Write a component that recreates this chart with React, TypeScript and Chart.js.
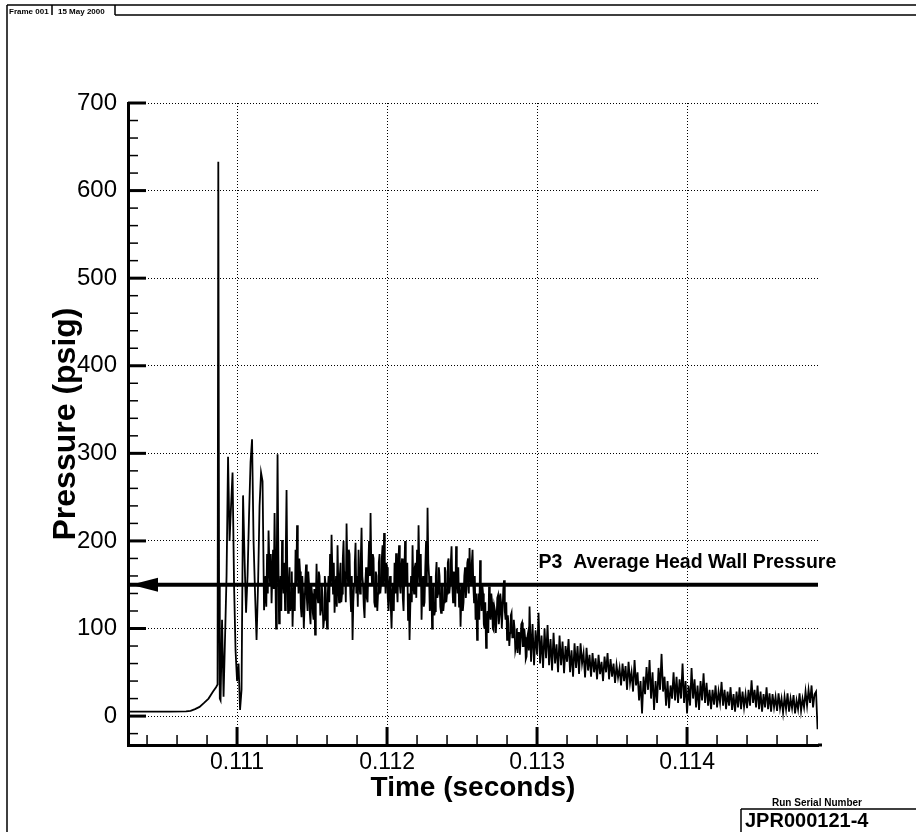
import React, { useEffect, useRef } from 'react';
import { Chart, registerables } from 'chart.js';

Chart.register(...registerables);

// ---- data (time in microseconds, pressure in psig) ----
const traceTimeUs = [
  110270, 110400, 110550, 110660, 110690, 110720, 110750, 110780, 110810, 110840,
  110860, 110870, 110875, 110880, 110885,
  110890, 110900, 110910, 110920, 110930, 110940, 110950, 110960, 110970, 110980,
  110990, 111000, 111010, 111020, 111030, 111040, 111050, 111060, 111070, 111080,
  111090, 111100, 111110, 111120, 111130, 111140, 111150, 111160, 111170, 111180,
  111190, 111195, 111200, 111205, 111210, 111215, 111220, 111225, 111230, 111235,
  111240, 111245, 111250, 111255, 111260, 111265, 111270, 111275, 111280, 111285,
  111290, 111295, 111300, 111305, 111310, 111315, 111320, 111325, 111330, 111335,
  111340, 111345, 111350, 111355, 111360, 111365, 111370, 111375, 111380, 111385,
  111390, 111395, 111400, 111405, 111410, 111415, 111420, 111425, 111430, 111435,
  111440, 111445, 111450, 111455, 111460, 111465, 111470, 111475, 111480, 111485,
  111490, 111495, 111500, 111505, 111510, 111515, 111520, 111525, 111530, 111535,
  111540, 111545, 111550, 111555, 111560, 111565, 111570, 111575, 111580, 111585,
  111590, 111595, 111600, 111605, 111610, 111615, 111620, 111625, 111630, 111635,
  111640, 111645, 111650, 111655, 111660, 111665, 111670, 111675, 111680, 111685,
  111690, 111695, 111700, 111705, 111710, 111715, 111720, 111725, 111730, 111735,
  111740, 111745, 111750, 111755, 111760, 111765, 111770, 111775, 111780, 111785,
  111790, 111795, 111800, 111805, 111810, 111815, 111820, 111825, 111830, 111835,
  111840, 111845, 111850, 111855, 111860, 111865, 111870, 111875, 111880, 111885,
  111890, 111895, 111900, 111905, 111910, 111915, 111920, 111925, 111930, 111935,
  111940, 111945, 111950, 111955, 111960, 111965, 111970, 111975, 111980, 111985,
  111990, 111995, 112000, 112005, 112010, 112015, 112020, 112025, 112030, 112035,
  112040, 112045, 112050, 112055, 112060, 112065, 112070, 112075, 112080, 112085,
  112090, 112095, 112100, 112105, 112110, 112115, 112120, 112125, 112130, 112135,
  112140, 112145, 112150, 112155, 112160, 112165, 112170, 112175, 112180, 112185,
  112190, 112195, 112200, 112205, 112210, 112215, 112220, 112225, 112230, 112235,
  112240, 112245, 112250, 112255, 112260, 112265, 112270, 112275, 112280, 112285,
  112290, 112295, 112300, 112305, 112310, 112315, 112320, 112325, 112330, 112335,
  112340, 112345, 112350, 112355, 112360, 112365, 112370, 112375, 112380, 112385,
  112390, 112395, 112400, 112405, 112410, 112415, 112420, 112425, 112430, 112435,
  112440, 112445, 112450, 112455, 112460, 112465, 112470, 112475, 112480, 112485,
  112490, 112495, 112500, 112505, 112510, 112515, 112520, 112525, 112530, 112535,
  112540, 112545, 112550, 112555, 112560, 112565, 112570, 112575, 112580, 112585,
  112590, 112595, 112600, 112605, 112610, 112615, 112620, 112625, 112630, 112635,
  112640, 112645, 112650, 112655, 112660, 112665, 112670, 112675, 112680, 112685,
  112690, 112695, 112700, 112705, 112710, 112715, 112720, 112725, 112730, 112735,
  112740, 112745, 112750, 112755, 112760, 112765, 112770, 112775, 112780, 112785,
  112790, 112795, 112800, 112805, 112810, 112815, 112820, 112825, 112830, 112835,
  112840, 112845, 112850, 112855, 112860, 112865, 112870, 112875, 112880, 112885,
  112890, 112895, 112900, 112905, 112910, 112915, 112920, 112925, 112930, 112935,
  112940, 112945, 112950,
  112960, 112970, 112980, 112990, 113000, 113010, 113020, 113030, 113040, 113050,
  113060, 113070, 113080, 113090, 113100, 113110, 113120, 113130, 113140, 113150,
  113160, 113170, 113180, 113190, 113200, 113210, 113220, 113230, 113240, 113250,
  113260, 113270, 113280, 113290, 113300, 113310, 113320, 113330, 113340, 113350,
  113360, 113370, 113380, 113390, 113400, 113410, 113420, 113430, 113440, 113450,
  113460, 113470, 113480, 113490, 113500, 113510, 113520, 113530, 113540, 113550,
  113560, 113570, 113580, 113590, 113600, 113610, 113620, 113630, 113640, 113650,
  113660, 113670, 113680, 113690, 113700, 113710, 113720, 113730, 113740, 113750,
  113760, 113770, 113780, 113790, 113800, 113810, 113820, 113830, 113840, 113850,
  113860, 113870, 113880, 113890, 113900, 113910, 113920, 113930, 113940, 113950,
  113960, 113970, 113980, 113990, 114000, 114010, 114020, 114030, 114040, 114050,
  114060, 114070, 114080, 114090, 114100, 114110, 114120, 114130, 114140, 114150,
  114160, 114170, 114180, 114190, 114200, 114210, 114220, 114230, 114240, 114250,
  114260, 114270, 114280, 114290, 114300, 114310, 114320, 114330, 114340, 114350,
  114360, 114370, 114380, 114390, 114400, 114410, 114420, 114430, 114440, 114450,
  114460, 114470, 114480, 114490, 114500, 114510, 114520, 114530, 114540, 114550,
  114560, 114570, 114580, 114590, 114600, 114610, 114620, 114630, 114640, 114650,
  114660, 114670, 114680, 114690, 114700, 114710, 114720, 114730, 114740, 114750,
  114760, 114770, 114780, 114790, 114800, 114810, 114820, 114830, 114840, 114850,
  114860, 114870,
];

const tracePsig = [
  5, 5, 5, 5.5, 6, 8, 10.5, 15, 20, 28,
  33, 36, 633, 150, 20,
  18, 110, 22, 90, 160, 296, 200, 240, 278, 150,
  75, 40, 60, 7, 30, 252, 180, 118, 160, 230,
  290, 316, 200, 140, 87, 150, 240, 278, 268, 121,
  160, 125, 185, 140, 212, 175, 150, 185, 129, 160,
  190, 145, 232, 170, 100, 180, 299, 190, 106, 135,
  160, 120, 201, 160, 140, 175, 121, 190, 258, 160,
  118, 150, 170, 120, 130, 165, 102, 135, 150, 120,
  190, 150, 218, 170, 140, 180, 165, 125, 113, 160,
  140, 100, 125, 155, 173, 135, 120, 165, 150, 118,
  105, 150, 140, 118, 110, 145, 93, 130, 174, 140,
  130, 165, 160, 115, 121, 150, 135, 100, 110, 160,
  150, 120, 100, 140, 160, 130, 185, 150, 207, 170,
  140, 175, 118, 140, 160, 125, 195, 150, 130, 160,
  175, 130, 140, 180, 200, 150, 165, 130, 220, 175,
  150, 190, 185, 140, 120, 160, 87, 130, 150, 175,
  198, 140, 160, 125, 190, 155, 140, 180, 215, 160,
  150, 125, 112, 150, 170, 135, 130, 170, 200, 160,
  232, 170, 150, 185, 180, 130, 125, 165, 160, 120,
  140, 175, 185, 140, 150, 180, 195, 150, 209, 170,
  140, 175, 170, 135, 120, 150, 160, 125, 100, 140,
  150, 120, 175, 140, 186, 150, 130, 170, 195, 150,
  140, 170, 180, 135, 120, 160, 200, 150, 150, 175,
  110, 140, 87, 125, 160, 130, 195, 150, 140, 170,
  175, 135, 190, 150, 218, 170, 150, 185, 110, 145,
  160, 125, 130, 170, 200, 150, 238, 175, 160, 120,
  130, 160, 100, 140, 150, 115, 120, 160, 176, 135,
  140, 170, 160, 125, 118, 150, 150, 120, 130, 170,
  165, 130, 140, 175, 180, 140, 150, 175, 194, 150,
  130, 165, 160, 125, 194, 160, 140, 170, 125, 150,
  102, 135, 150, 120, 130, 160, 170, 135, 145, 175,
  180, 140, 192, 160, 150, 175, 190, 150, 130, 160,
  110, 140, 87, 120, 140, 110, 178, 140, 120, 150,
  140, 105, 100, 130, 78, 110, 120, 95, 148, 120,
  110, 140, 130, 100, 98, 125, 120, 95, 110, 135,
  138, 105, 115, 140, 130, 100, 120, 145, 155, 120,
  110, 130, 87, 115, 105, 80, 95, 115, 118, 90,
  90, 110, 100, 75, 80, 100, 72, 95, 95, 70,
  85, 105, 107, 80, 80, 100, 90, 65, 68, 90,
  95, 75, 125,
  62, 105, 58, 98, 70, 118, 60, 92, 55, 100,
  66, 104, 58, 88, 52, 95, 60, 82, 50, 92,
  58, 85, 49, 80, 62, 88, 50, 75, 45, 83,
  55, 80, 48, 83, 60, 72, 44, 78, 52, 70,
  45, 72, 50, 66, 42, 70, 48, 62, 40, 68,
  50, 72, 42, 65, 45, 60, 38, 58, 44, 55,
  35, 60, 40, 57, 30, 62, 38, 50, 28, 64,
  35, 50, 18, 40, 3, 45, 25, 56, 30, 64,
  20, 50, 7, 40, 15, 55, 30, 71, 28, 45,
  12, 40, 9, 35, 20, 50, 18, 45, 15, 42,
  20, 60, 15, 40, 3, 35, 12, 55, 20, 42,
  10, 35, 7, 40, 18, 49, 15, 38, 12, 30,
  8, 30, 13, 35, 10, 28, 15, 39, 12, 30,
  8, 28, 12, 33, 7, 25, 5, 28, 10, 33,
  8, 28, 10, 25, 9, 30, 12, 41, 15, 30,
  10, 35, 8, 28, 5, 25, 10, 33, 8, 26,
  5, 25, 10, 22, 6, 26, 9, 20, 4, 22,
  8, 26, 5, 20, 9, 24, 3, 18, 8, 26,
  6, 20, 10, 28, 12, 30, 15, 35, 10, 25,
  28, -15,
];

const averagePsig = 150;
const averageLabel = 'P3  Average Head Wall Pressure';
const averageLabelTime = 0.11301;

const xTickValues = [0.111, 0.112, 0.113, 0.114];
const xTickLabels = ['0.111', '0.112', '0.113', '0.114'];
const xMinorTicks = [
  0.1104, 0.1106, 0.1108, 0.1112, 0.1114, 0.1116, 0.1118, 0.1122, 0.1124, 0.1126,
  0.1128, 0.1132, 0.1134, 0.1136, 0.1138, 0.1142, 0.1144, 0.1146, 0.1148,
];
const yTickValues = [0, 100, 200, 300, 400, 500, 600, 700];
const yTickLabels = ['0', '100', '200', '300', '400', '500', '600', '700'];
const yMinorTicks = [
  -20, 20, 40, 60, 80, 120, 140, 160, 180, 220, 240, 260, 280, 320, 340, 360, 380,
  420, 440, 460, 480, 520, 540, 560, 580, 620, 640, 660, 680,
];

const X_MIN = 0.110273;
const X_MAX = 0.114873;
const Y_MIN = -33;
const Y_MAX = 700;

const FONT = "'Liberation Sans', Arial, Helvetica, sans-serif";

const decorPlugin = {
  id: 'decor',
  afterDatasetsDraw(chart: any) {
    const { ctx, chartArea } = chart;
    const x = chart.scales.x;
    const y = chart.scales.y;
    ctx.save();
    ctx.strokeStyle = '#000';
    ctx.fillStyle = '#000';
    ctx.lineWidth = 1.5;
    for (const v of yMinorTicks) {
      const py = y.getPixelForValue(v);
      ctx.beginPath();
      ctx.moveTo(chartArea.left, py);
      ctx.lineTo(chartArea.left + 10, py);
      ctx.stroke();
    }
    for (const v of xMinorTicks) {
      const px = x.getPixelForValue(v);
      ctx.beginPath();
      ctx.moveTo(px, chartArea.bottom);
      ctx.lineTo(px, chartArea.bottom - 10);
      ctx.stroke();
    }
    ctx.lineWidth = 3;
    for (const v of yTickValues) {
      const py = y.getPixelForValue(v);
      ctx.beginPath();
      ctx.moveTo(chartArea.left, py);
      ctx.lineTo(chartArea.left + 18, py);
      ctx.stroke();
    }
    for (const v of xTickValues) {
      const px = x.getPixelForValue(v);
      ctx.beginPath();
      ctx.moveTo(px, chartArea.bottom);
      ctx.lineTo(px, chartArea.bottom - 18);
      ctx.stroke();
    }
    ctx.beginPath();
    ctx.moveTo(chartArea.right, chartArea.bottom);
    ctx.lineTo(chartArea.right + 4, chartArea.bottom);
    ctx.stroke();
    // arrow head of the average line
    const ay = y.getPixelForValue(averagePsig);
    const ax = x.getPixelForValue(X_MIN) + 3;
    ctx.beginPath();
    ctx.moveTo(ax, ay);
    ctx.lineTo(ax + 27, ay - 7);
    ctx.lineTo(ax + 27, ay + 7);
    ctx.closePath();
    ctx.fill();
    ctx.font = `bold 19.5px ${FONT}`;
    ctx.textAlign = 'left';
    ctx.textBaseline = 'alphabetic';
    ctx.fillText(averageLabel, x.getPixelForValue(averageLabelTime), ay - 17);
    ctx.restore();
  },
  afterDraw(chart: any) {
    const { ctx } = chart;
    ctx.save();
    ctx.strokeStyle = '#000';
    ctx.fillStyle = '#000';
    ctx.lineWidth = 1.5;
    ctx.beginPath();
    ctx.moveTo(7, 5);
    ctx.lineTo(916, 5);
    ctx.moveTo(7, 5);
    ctx.lineTo(7, 832);
    ctx.moveTo(115, 15);
    ctx.lineTo(916, 15);
    ctx.moveTo(52, 5);
    ctx.lineTo(52, 15);
    ctx.moveTo(115, 5);
    ctx.lineTo(115, 15);
    ctx.stroke();
    ctx.font = `bold 8px ${FONT}`;
    ctx.textAlign = 'left';
    ctx.textBaseline = 'alphabetic';
    ctx.fillText('Frame 001', 9, 13.5);
    ctx.fillText('15 May 2000', 58, 13.5);
    ctx.font = `bold 10px ${FONT}`;
    ctx.textAlign = 'center';
    ctx.textBaseline = 'middle';
    ctx.fillText('Run Serial Number', 817, 803);
    ctx.beginPath();
    ctx.moveTo(741, 809);
    ctx.lineTo(916, 809);
    ctx.moveTo(741, 809);
    ctx.lineTo(741, 832);
    ctx.stroke();
    ctx.font = `bold 20px ${FONT}`;
    ctx.textAlign = 'left';
    ctx.textBaseline = 'alphabetic';
    ctx.fillText('JPR000121-4', 745, 827);
    ctx.restore();
  },
};

export default function App() {
  const ref = useRef<HTMLCanvasElement>(null);
  useEffect(() => {
    if (!ref.current) return;
    const traceData = traceTimeUs.map((t, i) => ({ x: t / 1e6, y: tracePsig[i] }));
    const chart = new Chart(ref.current, {
      type: 'line',
      data: {
        datasets: [
          {
            label: averageLabel,
            data: [
              { x: X_MIN, y: averagePsig },
              { x: X_MAX, y: averagePsig },
            ],
            borderColor: '#000',
            borderWidth: 4,
            pointRadius: 0,
            order: 0,
          },
          {
            label: 'P3',
            data: traceData,
            borderColor: '#000',
            borderWidth: 1.8,
            pointRadius: 0,
            tension: 0,
            order: 1,
          },
        ],
      },
      options: {
        animation: false,
        responsive: false,
        events: [],
        layout: { padding: { left: 0, top: 103, right: 98, bottom: 0 } },
        plugins: { legend: { display: false }, tooltip: { enabled: false } },
        scales: {
          x: {
            type: 'linear',
            min: X_MIN,
            max: X_MAX,
            afterBuildTicks: (s: any) => {
              s.ticks = xTickValues.map((v) => ({ value: v }));
            },
            afterFit: (s: any) => {
              s.height = 87;
            },
            grid: { color: '#000', lineWidth: 1, drawTicks: false },
            border: { color: '#000', width: 3, dash: [1, 2] },
            ticks: {
              color: '#000',
              font: { family: FONT, size: 23 },
              padding: 4,
              maxRotation: 0,
              autoSkip: false,
              callback: (_v: any, i: number) => xTickLabels[i],
            },
            title: {
              display: true,
              text: 'Time (seconds)',
              color: '#000',
              font: { family: FONT, size: 28, weight: 'bold' },
              padding: { top: 0, bottom: 27 },
            },
          },
          y: {
            type: 'linear',
            min: Y_MIN,
            max: Y_MAX,
            afterBuildTicks: (s: any) => {
              s.ticks = yTickValues.map((v) => ({ value: v }));
            },
            afterFit: (s: any) => {
              s.width = 128;
            },
            grid: { color: '#000', lineWidth: 1, drawTicks: false },
            border: { color: '#000', width: 3, dash: [1, 2] },
            ticks: {
              color: '#000',
              font: { family: FONT, size: 24 },
              padding: 11,
              autoSkip: false,
              callback: (_v: any, i: number) => yTickLabels[i],
            },
            title: {
              display: true,
              text: 'Pressure (psig)',
              color: '#000',
              font: { family: FONT, size: 32, weight: 'bold' },
              padding: { top: 47, bottom: 0 },
            },
          },
        },
      },
      plugins: [decorPlugin],
    } as any);
    return () => chart.destroy();
  }, []);
  return (
    <div style={{ position: 'absolute', left: 0, top: 0, width: 916, height: 832, background: '#fff' }}>
      <canvas ref={ref} width={916} height={832} style={{ display: 'block', width: 916, height: 832 }} />
    </div>
  );
}
